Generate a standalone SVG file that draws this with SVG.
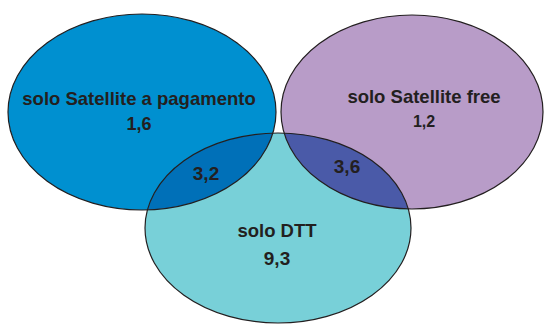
<svg xmlns="http://www.w3.org/2000/svg" width="544" height="324" viewBox="0 0 544 324">
<style>
.ol{stroke:#231f20;stroke-width:1.2;fill:none}
.t{font-family:"Liberation Sans",Arial,sans-serif;font-weight:bold;fill:#231f20;text-anchor:middle}
</style>
<defs>
<clipPath id="cL"><ellipse cx="142" cy="112" rx="134" ry="98"/></clipPath>
<clipPath id="cR"><ellipse cx="412" cy="112" rx="131" ry="97"/></clipPath>
</defs>
<rect width="544" height="324" fill="#ffffff"/>
<g id="sat-pay">
<ellipse cx="142" cy="112" rx="134" ry="98" fill="#0090d0"/>
</g>
<g id="sat-free">
<ellipse cx="412" cy="112" rx="131" ry="97" fill="#b89cc8"/>
</g>
<g id="dtt">
<ellipse cx="278" cy="228" rx="133" ry="95" fill="#78d0d8"/>
</g>
<g id="pay-dtt">
<ellipse clip-path="url(#cL)" cx="278" cy="228" rx="133" ry="95" fill="#0070b8"/>
</g>
<g id="free-dtt">
<ellipse clip-path="url(#cR)" cx="278" cy="228" rx="133" ry="95" fill="#4a5aa8"/>
</g>
<g id="outlines">
<ellipse class="ol" cx="142" cy="112" rx="134" ry="98"/>
<ellipse class="ol" cx="412" cy="112" rx="131" ry="97"/>
<ellipse class="ol" cx="278" cy="228" rx="133" ry="95"/>
</g>
<g id="labels">
<text class="t" x="139" y="105" font-size="18.5">solo Satellite a pagamento</text>
<text class="t" x="139" y="130" font-size="18">1,6</text>
<text class="t" x="424" y="103" font-size="18.5">solo Satellite free</text>
<text class="t" x="424" y="127" font-size="16">1,2</text>
<text class="t" x="277" y="237" font-size="18.5">solo DTT</text>
<text class="t" x="277" y="265" font-size="19">9,3</text>
<text class="t" x="206" y="180" font-size="19">3,2</text>
<text class="t" x="347" y="173" font-size="19">3,6</text>
</g>
</svg>
